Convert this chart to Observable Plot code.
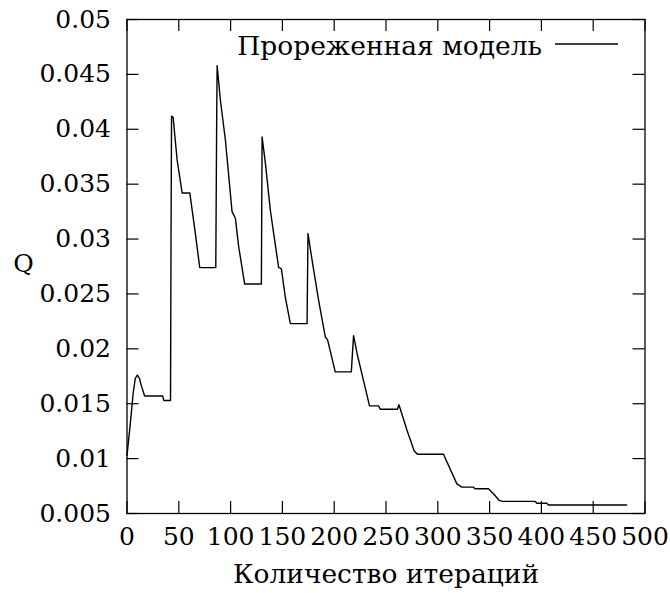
<!DOCTYPE html>
<html><head><meta charset="utf-8">
<script src="https://cdn.jsdelivr.net/npm/d3@7"></script>
<script src="https://cdn.jsdelivr.net/npm/@observablehq/plot@0.6"></script>
<style>body{margin:0;background:#fff}</style>
</head><body><div id="chart"></div>
<script>
const iterations = [0, 3, 6, 8, 10, 12, 14, 17, 34.5, 35.5, 42, 42.5, 43, 44.5, 48.4, 51.6, 53.2, 60.6, 66, 70.2, 85.7, 86.5, 87, 90.2, 95, 101.4, 104.6, 107.8, 113.6, 129.7, 130.4, 133.6, 138.4, 141.6, 146.4, 149, 152.8, 157.7, 173.8, 174.7, 178.6, 185, 191.4, 193.7, 201, 216.5, 218.7, 222, 228.3, 234.1, 242.8, 244.4, 261.1, 262.5, 270.2, 277.2, 280.4, 305.5, 318.4, 323.2, 334.4, 336, 348.9, 353.7, 359.2, 362.4, 394, 395.6, 405.2, 406.8, 482.3];
const qValues = [0.0103, 0.0130, 0.0160, 0.0173, 0.0176, 0.0173, 0.0166, 0.0157, 0.0157, 0.0153, 0.0153, 0.0300, 0.0412, 0.0411, 0.0372, 0.0352, 0.0342, 0.0342, 0.0305, 0.0274, 0.0274, 0.0400, 0.0458, 0.0426, 0.0390, 0.0325, 0.0319, 0.0293, 0.0259, 0.0259, 0.0393, 0.0369, 0.0326, 0.0305, 0.0274, 0.0273, 0.0247, 0.0223, 0.0223, 0.0305, 0.0281, 0.0244, 0.0211, 0.0208, 0.0179, 0.0179, 0.0212, 0.0196, 0.0171, 0.0148, 0.0148, 0.0145, 0.0145, 0.0149, 0.0126, 0.0107, 0.0104, 0.0104, 0.0077, 0.0074, 0.0074, 0.00725, 0.00725, 0.0068, 0.0062, 0.0061, 0.0061, 0.00594, 0.00594, 0.00578, 0.00578];
const xTicks = [0, 50, 100, 150, 200, 250, 300, 350, 400, 450, 500];
const yTicks = [0.005, 0.01, 0.015, 0.02, 0.025, 0.03, 0.035, 0.04, 0.045, 0.05];
const seriesName = "Прореженная модель";
const xLabel = "Количество итераций";
const yLabel = "Q";

const W = 670, H = 593, mL = 126.5, mR = 25.5, mT = 19, mB = 80;
const innerW = W - mL - mR, innerH = H - mT - mB;
const data = iterations.map((x, i) => ({x, q: qValues[i]}));
const font = "DejaVu Serif";

const chart = Plot.plot({
  width: W, height: H,
  marginLeft: mL, marginRight: mR, marginTop: mT, marginBottom: mB,
  style: {fontFamily: font, fontSize: "25px", background: "#fff", color: "#000"},
  x: {domain: [0, 500], label: null},
  y: {domain: [0.005, 0.05], label: null},
  marks: [
    Plot.ruleX(xTicks, {insetTop: innerH - 12, stroke: "#000", strokeWidth: 1.2}),
    Plot.ruleX(xTicks, {insetBottom: innerH - 12, stroke: "#000", strokeWidth: 1.2}),
    Plot.ruleY(yTicks, {insetRight: innerW - 12, stroke: "#000", strokeWidth: 1.2}),
    Plot.ruleY(yTicks, {insetLeft: innerW - 12, stroke: "#000", strokeWidth: 1.2}),
    Plot.axisX(xTicks, {tickSize: 0, tickPadding: 14, tickFormat: d => String(d), fill: "#000"}),
    Plot.axisY(yTicks, {tickSize: 0, tickPadding: 16, tickFormat: d => String(d), fill: "#000"}),
    Plot.line(data, {x: "x", y: "q", stroke: "#000", strokeWidth: 1.4}),
    Plot.frame({stroke: "#000", strokeWidth: 1.3}),
    Plot.text([xLabel], {frameAnchor: "bottom", textAnchor: "middle", lineAnchor: "middle", dy: 61.5, fontSize: 26.5, fill: "#000"}),
    Plot.text([yLabel], {frameAnchor: "left", textAnchor: "middle", lineAnchor: "middle", dx: -103.5, dy: -2.5, fill: "#000"}),
    Plot.text([seriesName], {frameAnchor: "top-right", textAnchor: "end", lineAnchor: "middle", dx: -103, dy: 27.5, fontSize: 26.5, fill: "#000"})
  ]
});
d3.select(chart).selectAll("text").attr("font-family", font);
d3.select(chart).append("line")
  .attr("x1", 555).attr("x2", 618).attr("y1", 44).attr("y2", 44)
  .attr("stroke", "#000").attr("stroke-width", 1.3);
document.getElementById("chart").appendChild(chart);
</script>
</body></html>
